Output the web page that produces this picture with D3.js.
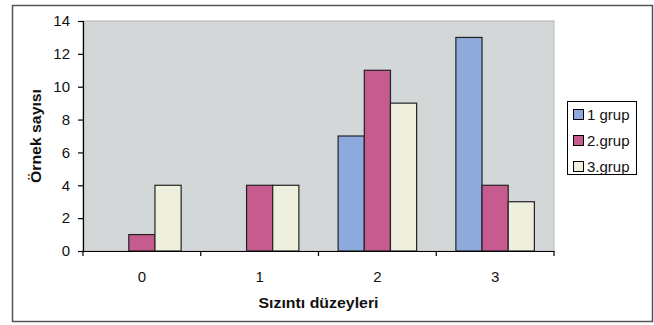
<!DOCTYPE html>
<html>
<head>
<meta charset="utf-8">
<script src="https://cdn.jsdelivr.net/npm/d3@7"></script>
<style>
  html, body { margin: 0; padding: 0; background: #fff; }
  svg text { font-family: "Liberation Sans", Arial, sans-serif; fill: #111; }
</style>
</head>
<body>
<svg id="chart" width="654" height="325"></svg>
<script>
// Leak levels (categories) and sample counts per group
const categories = ["0", "1", "2", "3"];
const seriesNames = ["1 grup", "2.grup", "3.grup"];
const group1 = [0, 0, 7, 13];
const group2 = [1, 4, 11, 4];
const group3 = [4, 4, 9, 3];
const yTicks = [0, 2, 4, 6, 8, 10, 12, 14];
const seriesColors = ["#8eaadc", "#c55b8f", "#eeefdc"];

const series = [group1, group2, group3];

const svg = d3.select("#chart");
const plot = { left: 83, right: 554, top: 21, bottom: 251 };

// Outer frame
svg.append("rect")
  .attr("x", 12.5).attr("y", 5.5)
  .attr("width", 640).attr("height", 316)
  .attr("fill", "#fff").attr("stroke", "#555").attr("stroke-width", 1.5);

const x0 = d3.scaleBand().domain(categories).range([plot.left, plot.right]).paddingInner(0).paddingOuter(0);
// bar groups: 150% gap between clusters
const x1 = d3.scaleBand().domain(d3.range(series.length)).range([0, x0.bandwidth()]).paddingOuter(0.75).paddingInner(0);
const y = d3.scaleLinear().domain([0, 14]).range([plot.bottom, plot.top]);

// Plot area
svg.append("rect")
  .attr("x", plot.left).attr("y", plot.top)
  .attr("width", plot.right - plot.left).attr("height", plot.bottom - plot.top)
  .attr("fill", "#d3d7d8").attr("stroke", "#b4b6b7").attr("stroke-width", 1);

// Bars
const cats = svg.append("g").selectAll("g")
  .data(categories)
  .join("g")
  .attr("transform", d => `translate(${x0(d)},0)`);

cats.selectAll("rect")
  .data((d, i) => series.map((s, k) => ({ k, v: s[i] })))
  .join("rect")
  .filter(d => d.v > 0)
  .attr("x", d => x1(d.k))
  .attr("y", d => y(d.v))
  .attr("width", x1.bandwidth())
  .attr("height", d => y(0) - y(d.v))
  .attr("fill", d => seriesColors[d.k])
  .attr("stroke", "#222")
  .attr("stroke-width", 1.2);

// Y axis
const yAxis = svg.append("g")
  .attr("transform", `translate(${plot.left},0)`)
  .call(d3.axisLeft(y).tickValues(yTicks).tickSize(5).tickPadding(8));
yAxis.selectAll("path, line").attr("stroke", "#000").attr("stroke-width", 1.2);
yAxis.selectAll("text").attr("font-size", "15px").attr("font-family", "Liberation Sans, Arial, sans-serif").attr("fill", "#111");

// X axis: ticks at category boundaries
const xAxis = svg.append("g")
  .attr("transform", `translate(0,${plot.bottom})`)
  .call(d3.axisBottom(x0).tickSize(0).tickPadding(20));
xAxis.select(".domain").attr("stroke", "#000").attr("stroke-width", 1.2);
xAxis.selectAll("text").attr("font-size", "15px").attr("font-family", "Liberation Sans, Arial, sans-serif").attr("fill", "#111");
const bounds = categories.map(c => x0(c)).concat([plot.right]);
xAxis.selectAll("line.bound")
  .data(bounds)
  .join("line")
  .attr("class", "bound")
  .attr("x1", d => d).attr("x2", d => d)
  .attr("y1", 0).attr("y2", 5)
  .attr("stroke", "#000").attr("stroke-width", 1.2);

// Axis titles
svg.append("text")
  .attr("x", (plot.left + plot.right) / 2)
  .attr("y", 308)
  .attr("text-anchor", "middle")
  .attr("font-size", "15px").attr("font-weight", "bold")
  .attr("textLength", 120).attr("lengthAdjust", "spacingAndGlyphs")
  .text("Sızıntı düzeyleri");

svg.append("text")
  .attr("transform", `translate(41,${(plot.top + plot.bottom) / 2}) rotate(-90)`)
  .attr("text-anchor", "middle")
  .attr("font-size", "15px").attr("font-weight", "bold")
  .attr("textLength", 94).attr("lengthAdjust", "spacingAndGlyphs")
  .text("Örnek sayısı");

// Legend
const legend = svg.append("g");
legend.append("rect")
  .attr("x", 567.5).attr("y", 101.5)
  .attr("width", 69).attr("height", 73)
  .attr("fill", "#fff").attr("stroke", "#000").attr("stroke-width", 1);

const item = legend.selectAll("g.item")
  .data(seriesNames)
  .join("g")
  .attr("class", "item")
  .attr("transform", (d, i) => `translate(573,${114.5 + i * 26})`);

item.append("rect")
  .attr("x", 0.5).attr("y", -5)
  .attr("width", 10).attr("height", 10)
  .attr("fill", (d, i) => seriesColors[i])
  .attr("stroke", "#000").attr("stroke-width", 1);

item.append("text")
  .attr("x", 14).attr("y", 5.5)
  .attr("font-size", "15px")
  .text(d => d);
</script>
</body>
</html>
